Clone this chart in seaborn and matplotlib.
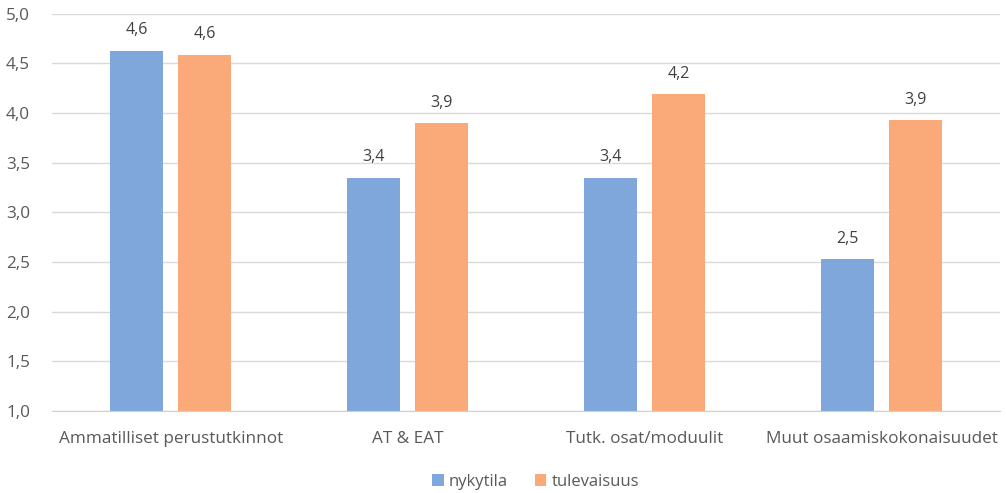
import seaborn as sns
import pandas as pd
import matplotlib.pyplot as plt

categories = ['Ammatilliset perustutkinnot', 'AT & EAT', 'Tutk. osat/moduulit', 'Muut osaamiskokonaisuudet']
nykytila = [4.63, 3.35, 3.35, 2.53]
tulevaisuus = [4.59, 3.90, 4.19, 3.93]
series = ['nykytila', 'tulevaisuus']
yticks = [1.0, 1.5, 2.0, 2.5, 3.0, 3.5, 4.0, 4.5, 5.0]

df = pd.DataFrame({
    'kategoria': categories * 2,
    'arvo': nykytila + tulevaisuus,
    'sarja': [series[0]] * 4 + [series[1]] * 4,
})

sns.set_style('white')
plt.rcParams['font.family'] = ['Open Sans', 'DejaVu Sans']
text_col = '#595959'

fig = plt.figure(figsize=(10.06, 4.93), dpi=100)
ax = fig.add_axes([0.052, 0.166, 0.942, 0.806])

sns.barplot(data=df, x='kategoria', y='arvo', hue='sarja',
            palette=['#7fa7db', '#f9aa78'], width=0.572, gap=0.22,
            saturation=1, linewidth=0, ax=ax)

# value labels with decimal comma
for cont in ax.containers:
    ax.bar_label(cont, labels=[f'{v.get_height():.1f}'.replace('.', ',') for v in cont],
                 padding=9, fontsize=11.5, color='#404040')

# the bars start from 1.0, so the bottom is clipped by ylim
ax.set_ylim(1.0, 5.0)
ax.set_yticks(yticks)
ax.set_yticklabels([f'{t:.1f}'.replace('.', ',') for t in yticks])
ax.set_xlim(-0.5, 3.5)
ax.yaxis.grid(True, color='#d9d9d9', linewidth=1)
ax.set_axisbelow(True)
for s in ['top', 'right', 'left']:
    ax.spines[s].set_visible(False)
ax.spines['bottom'].set_color('#d0d0d0')
ax.tick_params(axis='both', length=0, labelsize=12.3, colors=text_col)
ax.tick_params(axis='x', pad=14)
ax.tick_params(axis='y', pad=16)
ax.set_xlabel('')
ax.set_ylabel('')

ax.legend(loc='upper center', bbox_to_anchor=(0.51, -0.12), ncol=2, frameon=False,
          fontsize=12, handlelength=0.7, handleheight=0.7, handletextpad=0.3,
          columnspacing=1.6, labelcolor=text_col)

fig.savefig('out.png', dpi=100)
